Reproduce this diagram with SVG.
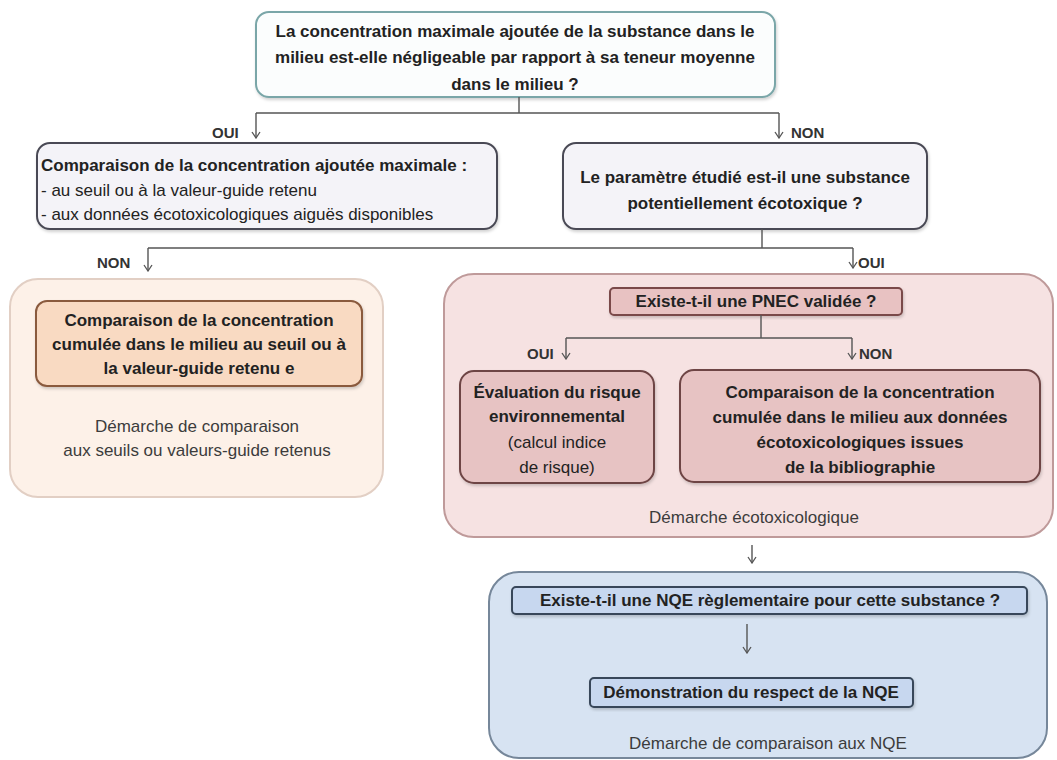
<svg xmlns="http://www.w3.org/2000/svg" width="1057" height="760" viewBox="0 0 1057 760">
<defs>
<marker id="arr" viewBox="0 0 10 10" refX="9" refY="5" markerWidth="10" markerHeight="10" markerUnits="userSpaceOnUse" orient="auto">
<path d="M3,1 L9,5 L3,9" fill="none" stroke="#555" stroke-width="1.3"/>
</marker>
<filter id="sh" x="-5%" y="-5%" width="110%" height="120%">
<feDropShadow dx="1" dy="2" stdDeviation="1.5" flood-color="#000" flood-opacity="0.18"/>
</filter>
</defs>
<style>
text{font-family:"Liberation Sans",Arial,sans-serif;font-size:17px;fill:#222}
.b{font-weight:bold}
.c{text-anchor:middle}
.cap{fill:#3c3c3c}
.lbl{font-size:15px;font-weight:bold;fill:#333}
.conn{fill:none;stroke:#555;stroke-width:1.4}
.q{fill:#f4f3f8;stroke:#4a4a55;stroke-width:2}
</style>
<rect width="1057" height="760" fill="#ffffff"/>

<g id="q1">
<rect x="256" y="12" width="519" height="85" rx="13" fill="#fbfdfd" stroke="#7aa6a8" stroke-width="2" filter="url(#sh)"/>
<text class="b c" x="515" y="37">La concentration maximale ajoutée de la substance dans  le</text>
<text class="b c" x="515" y="63">milieu  est-elle négligeable par rapport à sa teneur moyenne</text>
<text class="b c" x="515" y="90">dans le milieu ?</text>
</g>

<g id="comp-ajoutee">
<rect class="q" x="37" y="143" width="460" height="86" rx="13" filter="url(#sh)"/>
<text class="b" x="41" y="171">Comparaison de la concentration ajoutée maximale :</text>
<text x="41" y="196">- au seuil ou à la valeur-guide retenu</text>
<text x="41" y="220">- aux données écotoxicologiques aiguës disponibles</text>
</g>

<g id="q2">
<rect class="q" x="563" y="143" width="364" height="86" rx="13" filter="url(#sh)"/>
<text class="b c" x="745" y="183">Le paramètre étudié est-il une substance</text>
<text class="b c" x="745" y="209">potentiellement écotoxique ?</text>
</g>

<g id="panel-seuils">
<rect x="10" y="279" width="373" height="218" rx="28" fill="#fdf1e8" stroke="#e2cfc4" stroke-width="2"/>
<rect x="36" y="301" width="326" height="85" rx="11" fill="#f9dac2" stroke="#8a5a3e" stroke-width="2" filter="url(#sh)"/>
<text class="b c" x="199" y="326">Comparaison de la concentration</text>
<text class="b c" x="199" y="350">cumulée dans le milieu au seuil ou à</text>
<text class="b c" x="199" y="374">la valeur-guide retenu e</text>
<text class="c cap" x="197" y="432">Démarche de comparaison</text>
<text class="c cap" x="197" y="456">aux seuils ou valeurs-guide retenus</text>
</g>

<g id="panel-ecotox">
<rect x="444" y="274" width="609" height="263" rx="30" fill="#f6e2e2" stroke="#bf9a9a" stroke-width="2"/>
<text class="c cap" x="754" y="523">Démarche écotoxicologique</text>
</g>

<g id="q-pnec">
<rect x="610" y="288" width="292" height="27" rx="4" fill="#e8c2c2" stroke="#7a4848" stroke-width="2" filter="url(#sh)"/>
<text class="b c" x="756" y="307">Existe-t-il une PNEC validée ?</text>
</g>

<g id="eval-risque">
<rect x="460" y="371" width="194" height="112" rx="14" fill="#e7c3c3" stroke="#6e4444" stroke-width="2" filter="url(#sh)"/>
<text class="b c" x="557" y="398">Évaluation du risque</text>
<text class="b c" x="557" y="422">environnemental</text>
<text class="c" x="557" y="448">(calcul indice</text>
<text class="c" x="557" y="473">de risque)</text>
</g>

<g id="comp-biblio">
<rect x="680" y="370" width="360" height="112" rx="14" fill="#e7c3c3" stroke="#6e4444" stroke-width="2" filter="url(#sh)"/>
<text class="b c" x="860" y="398">Comparaison de la concentration</text>
<text class="b c" x="860" y="423">cumulée dans le milieu aux données</text>
<text class="b c" x="860" y="448">écotoxicologiques issues</text>
<text class="b c" x="860" y="473">de la bibliographie</text>
</g>

<g id="panel-nqe">
<rect x="489" y="572" width="558" height="186" rx="30" fill="#d7e3f2" stroke="#76879a" stroke-width="2"/>
<text class="c cap" x="768" y="749">Démarche de comparaison aux NQE</text>
</g>

<g id="q-nqe">
<rect x="512" y="587" width="515" height="27" rx="4" fill="#c7d7ef" stroke="#38475a" stroke-width="2" filter="url(#sh)"/>
<text class="b c" x="770" y="606">Existe-t-il une NQE règlementaire pour cette substance ?</text>
</g>

<g id="demo-nqe">
<rect x="590" y="678" width="323" height="29" rx="4" fill="#c7d7ef" stroke="#38475a" stroke-width="2" filter="url(#sh)"/>
<text class="b c" x="751" y="698">Démonstration du respect de la NQE</text>
</g>

<g id="connectors">
<path class="conn" d="M519,97 V113 M256,113 H779"/>
<path class="conn" d="M256,113 V138" marker-end="url(#arr)"/>
<path class="conn" d="M779,113 V138" marker-end="url(#arr)"/>
<path class="conn" d="M762,229 V248 M148,248 H853"/>
<path class="conn" d="M148,248 V271" marker-end="url(#arr)"/>
<path class="conn" d="M853,248 V268" marker-end="url(#arr)"/>
<path class="conn" d="M761,315 V338 M566,338 H852"/>
<path class="conn" d="M566,338 V359" marker-end="url(#arr)"/>
<path class="conn" d="M852,338 V359" marker-end="url(#arr)"/>
<path class="conn" d="M752,545 V563" marker-end="url(#arr)"/>
<path class="conn" d="M747,624 V653" marker-end="url(#arr)"/>
<text class="lbl" x="212" y="138">OUI</text>
<text class="lbl" x="791" y="138">NON</text>
<text class="lbl" x="97" y="268">NON</text>
<text class="lbl" x="858" y="268">OUI</text>
<text class="lbl" x="527" y="359">OUI</text>
<text class="lbl" x="859" y="359">NON</text>
</g>
</svg>
